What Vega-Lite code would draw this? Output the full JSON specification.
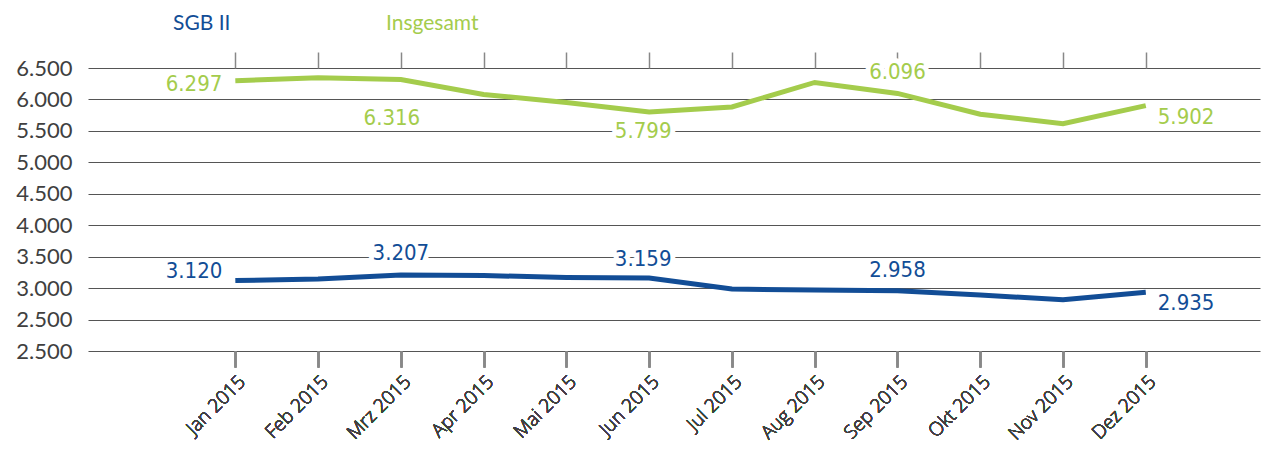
{
  "$schema": "https://vega.github.io/schema/vega-lite/v6.json",
  "autosize": {"type": "none"},
  "padding": {"left": 88, "top": 68, "right": 2, "bottom": 101},
  "width": 1172,
  "height": 283,
  "background": "white",
  "config": {
    "locale": {"number": {"decimal": ",", "thousands": ".", "grouping": [3], "currency": ["", " €"]}},
    "view": {"stroke": null},
    "font": "Lato",
    "text": {"font": "Liberation Sans Narrow, DejaVu Sans Condensed, Roboto Condensed, Roboto", "fontSize": 22}
  },
  "data": {
    "values": [
      {"m": 1, "series": "Insgesamt", "value": 6297},
      {"m": 2, "series": "Insgesamt", "value": 6345},
      {"m": 3, "series": "Insgesamt", "value": 6316},
      {"m": 4, "series": "Insgesamt", "value": 6080},
      {"m": 5, "series": "Insgesamt", "value": 5950},
      {"m": 6, "series": "Insgesamt", "value": 5799},
      {"m": 7, "series": "Insgesamt", "value": 5880},
      {"m": 8, "series": "Insgesamt", "value": 6270},
      {"m": 9, "series": "Insgesamt", "value": 6096},
      {"m": 10, "series": "Insgesamt", "value": 5765},
      {"m": 11, "series": "Insgesamt", "value": 5615},
      {"m": 12, "series": "Insgesamt", "value": 5902},
      {"m": 1, "series": "SGB II", "value": 3120},
      {"m": 2, "series": "SGB II", "value": 3145},
      {"m": 3, "series": "SGB II", "value": 3207},
      {"m": 4, "series": "SGB II", "value": 3200},
      {"m": 5, "series": "SGB II", "value": 3170},
      {"m": 6, "series": "SGB II", "value": 3159},
      {"m": 7, "series": "SGB II", "value": 2985},
      {"m": 8, "series": "SGB II", "value": 2970},
      {"m": 9, "series": "SGB II", "value": 2958},
      {"m": 10, "series": "SGB II", "value": 2890},
      {"m": 11, "series": "SGB II", "value": 2815},
      {"m": 12, "series": "SGB II", "value": 2935}
    ]
  },
  "encoding": {
    "x": {"field": "m", "type": "quantitative", "scale": {"domain": [-0.78, 13.38], "nice": false, "zero": false}, "axis": {
      "orient": "bottom", "values": [1,2,3,4,5,6,7,8,9,10,11,12],
      "labelExpr": "['Jan','Feb','Mrz','Apr','Mai','Jun','Jul','Aug','Sep','Okt','Nov','Dez'][datum.value - 1] + ' 2015'",
      "labelAngle": -45, "labelAlign": "right", "labelBaseline": "top", "labelPadding": 5,
      "labelFont": "Open Sans", "labelFontSize": 19, "labelFontWeight": 300, "labelColor": "#404040",
      "tickSize": 16, "tickColor": "#888888", "tickWidth": 1.5,
      "domain": false, "grid": false, "title": null
    }},
    "y": {"field": "value", "type": "quantitative", "scale": {"domain": [2000, 6500], "nice": false, "zero": false}, "axis": {
      "orient": "left", "values": [2000,2500,3000,3500,4000,4500,5000,5500,6000,6500],
      "format": ",.0f",
      "labelExpr": "datum.value === 2000 ? '2.500' : datum.label",
      "labelFont": "Lato", "labelFontSize": 22, "labelFontWeight": "normal", "labelColor": "#404040", "labelPadding": 16,
      "ticks": false, "domain": false, "grid": true, "gridColor": "#555555", "gridWidth": 1, "title": null
    }},
    "color": {"field": "series", "type": "nominal", "scale": {"domain": ["SGB II", "Insgesamt"], "range": ["#124d96", "#a4cc4c"]}, "legend": {
      "orient": "none", "legendX": 64, "legendY": -55, "direction": "horizontal", "title": null,
      "padding": 0, "symbolSize": 0, "symbolOpacity": 0, "symbolStrokeWidth": 0, "labelOffset": 0,
      "labelFont": "Lato", "labelFontSize": 21, "columnPadding": 134,
      "encode": {"labels": {"update": {"fill": {"scale": "color", "field": "value"}}}}
    }}
  },
  "layer": [
    {
      "transform": [{"filter": "datum.series === 'SGB II' && datum.m === 3"}],
      "mark": {"type": "text", "dy": -22, "fill": "white", "stroke": "white", "strokeWidth": 10, "strokeJoin": "round"},
      "encoding": {"text": {"field": "value", "type": "quantitative", "format": ",.0f"}, "color": {"value": "white"}}
    },
    {
      "transform": [{"filter": "datum.series === 'Insgesamt' && datum.m === 6"}],
      "mark": {"type": "text", "dx": -6, "dy": 19, "fill": "white", "stroke": "white", "strokeWidth": 10, "strokeJoin": "round"},
      "encoding": {"text": {"field": "value", "type": "quantitative", "format": ",.0f"}, "color": {"value": "white"}}
    },
    {
      "transform": [{"filter": "datum.series === 'SGB II' && datum.m === 6"}],
      "mark": {"type": "text", "dx": -6, "dy": -19, "fill": "white", "stroke": "white", "strokeWidth": 10, "strokeJoin": "round"},
      "encoding": {"text": {"field": "value", "type": "quantitative", "format": ",.0f"}, "color": {"value": "white"}}
    },
    {
      "transform": [{"filter": "datum.series === 'Insgesamt' && datum.m === 9"}],
      "mark": {"type": "text", "dy": -21, "fill": "white", "stroke": "white", "strokeWidth": 10, "strokeJoin": "round"},
      "encoding": {"text": {"field": "value", "type": "quantitative", "format": ",.0f"}, "color": {"value": "white"}}
    },
    {
      "mark": {"type": "line", "strokeWidth": 5, "strokeCap": "butt"},
      "encoding": {}
    },
    {
      "mark": {"type": "line", "opacity": 0},
      "encoding": {
        "x": {"field": "m", "type": "quantitative", "axis": {
          "orient": "top", "values": [1,2,3,4,5,6,7,8,9,10,11,12], "labels": false,
          "tickSize": 16, "tickColor": "#888888", "tickWidth": 1.5,
          "domain": false, "grid": false, "title": null
        }}
      }
    },
    {
      "transform": [{"filter": "datum.series === 'Insgesamt' && datum.m === 1"}],
      "mark": {"type": "text", "align": "right", "dx": -13, "dy": 3},
      "encoding": {"text": {"field": "value", "type": "quantitative", "format": ",.0f"}}
    },
    {
      "transform": [{"filter": "datum.series === 'SGB II' && datum.m === 1"}],
      "mark": {"type": "text", "align": "right", "dx": -13, "dy": -10},
      "encoding": {"text": {"field": "value", "type": "quantitative", "format": ",.0f"}}
    },
    {
      "transform": [{"filter": "datum.series === 'Insgesamt' && datum.m === 3"}],
      "mark": {"type": "text", "dx": -9, "dy": 38},
      "encoding": {"text": {"field": "value", "type": "quantitative", "format": ",.0f"}}
    },
    {
      "transform": [{"filter": "datum.series === 'SGB II' && datum.m === 3"}],
      "mark": {"type": "text", "dy": -22},
      "encoding": {"text": {"field": "value", "type": "quantitative", "format": ",.0f"}}
    },
    {
      "transform": [{"filter": "datum.series === 'Insgesamt' && datum.m === 6"}],
      "mark": {"type": "text", "dx": -6, "dy": 19},
      "encoding": {"text": {"field": "value", "type": "quantitative", "format": ",.0f"}}
    },
    {
      "transform": [{"filter": "datum.series === 'SGB II' && datum.m === 6"}],
      "mark": {"type": "text", "dx": -6, "dy": -19},
      "encoding": {"text": {"field": "value", "type": "quantitative", "format": ",.0f"}}
    },
    {
      "transform": [{"filter": "datum.m === 9"}],
      "mark": {"type": "text", "dy": -21},
      "encoding": {"text": {"field": "value", "type": "quantitative", "format": ",.0f"}}
    },
    {
      "transform": [{"filter": "datum.m === 12"}],
      "mark": {"type": "text", "align": "left", "dx": 12, "dy": 11},
      "encoding": {"text": {"field": "value", "type": "quantitative", "format": ",.0f"}}
    }
  ]
}
